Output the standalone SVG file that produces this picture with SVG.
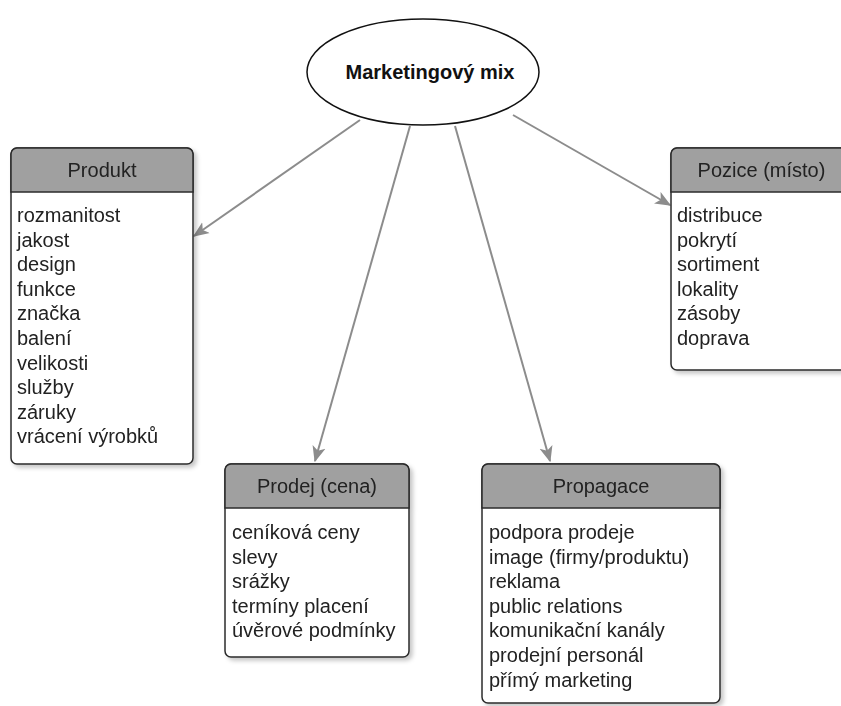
<svg xmlns="http://www.w3.org/2000/svg" width="841" height="706" viewBox="0 0 841 706">
<style>
.box{fill:#ffffff;stroke:#2b2b2b;stroke-width:1.5}
.hdr{fill:#a0a0a0;stroke:#2b2b2b;stroke-width:1.5}
.ht{font-family:"Liberation Sans",Arial,sans-serif;font-size:20px;fill:#222;text-anchor:middle}
.it{font-family:"Liberation Sans",Arial,sans-serif;font-size:20px;fill:#222}
.ttl{font-family:"Liberation Sans",Arial,sans-serif;font-size:20px;font-weight:bold;fill:#111;text-anchor:middle}
.edge{fill:none;stroke:#8c8c8c;stroke-width:2;marker-end:url(#arr)}
</style>
<defs>
<marker id="arr" viewBox="0 0 12 10" refX="11" refY="5" markerWidth="8" markerHeight="7" markerUnits="strokeWidth" orient="auto">
<path d="M0,0 L12,5 L0,10 L3,5 z" fill="#8c8c8c"/>
</marker>
<filter id="sh" x="-10%" y="-10%" width="130%" height="130%">
<feDropShadow dx="3" dy="3" stdDeviation="2" flood-color="#000" flood-opacity="0.22"/>
</filter>
</defs>
<rect width="841" height="706" fill="#ffffff"/>

<g id="connectors">
<line class="edge" x1="360" y1="120" x2="194" y2="236"/>
<line class="edge" x1="410" y1="126" x2="315" y2="461"/>
<line class="edge" x1="455" y1="126" x2="550" y2="461"/>
<line class="edge" x1="513" y1="115" x2="670" y2="205"/>
</g>

<g id="mix">
<ellipse cx="423" cy="72" rx="116" ry="53" fill="#ffffff" stroke="#111" stroke-width="1.5"/>
<text class="ttl" x="430" y="79">Marketingový mix</text>
</g>

<g id="produkt" filter="url(#sh)">
<rect class="box" x="11" y="148" width="182" height="316" rx="6"/>
<path class="hdr" d="M11,192 V154 A6,6 0 0 1 17,148 H187 A6,6 0 0 1 193,154 V192 Z"/>
<text class="ht" x="102" y="177">Produkt</text>
<text class="it" x="17" y="222">rozmanitost</text>
<text class="it" x="17" y="246.6">jakost</text>
<text class="it" x="17" y="271.2">design</text>
<text class="it" x="17" y="295.8">funkce</text>
<text class="it" x="17" y="320.4">značka</text>
<text class="it" x="17" y="345">balení</text>
<text class="it" x="17" y="369.6">velikosti</text>
<text class="it" x="17" y="394.2">služby</text>
<text class="it" x="17" y="418.8">záruky</text>
<text class="it" x="17" y="443.4">vrácení výrobků</text>
</g>

<g id="pozice" filter="url(#sh)">
<rect class="box" x="671" y="148" width="181" height="222" rx="6"/>
<path class="hdr" d="M671,192 V154 A6,6 0 0 1 677,148 H846 A6,6 0 0 1 852,154 V192 Z"/>
<text class="ht" x="761.5" y="177">Pozice (místo)</text>
<text class="it" x="677" y="222">distribuce</text>
<text class="it" x="677" y="246.6">pokrytí</text>
<text class="it" x="677" y="271.2">sortiment</text>
<text class="it" x="677" y="295.8">lokality</text>
<text class="it" x="677" y="320.4">zásoby</text>
<text class="it" x="677" y="345">doprava</text>
</g>

<g id="prodej" filter="url(#sh)">
<rect class="box" x="225" y="464" width="184" height="193" rx="6"/>
<path class="hdr" d="M225,508 V470 A6,6 0 0 1 231,464 H403 A6,6 0 0 1 409,470 V508 Z"/>
<text class="ht" x="317" y="493">Prodej (cena)</text>
<text class="it" x="232" y="539">ceníková ceny</text>
<text class="it" x="232" y="563.6">slevy</text>
<text class="it" x="232" y="588.2">srážky</text>
<text class="it" x="232" y="612.8">termíny placení</text>
<text class="it" x="232" y="637.4">úvěrové podmínky</text>
</g>

<g id="propagace" filter="url(#sh)">
<rect class="box" x="482" y="464" width="238" height="239" rx="6"/>
<path class="hdr" d="M482,508 V470 A6,6 0 0 1 488,464 H714 A6,6 0 0 1 720,470 V508 Z"/>
<text class="ht" x="601" y="493">Propagace</text>
<text class="it" x="489" y="539">podpora prodeje</text>
<text class="it" x="489" y="563.6">image (firmy/produktu)</text>
<text class="it" x="489" y="588.2">reklama</text>
<text class="it" x="489" y="612.8">public relations</text>
<text class="it" x="489" y="637.4">komunikační kanály</text>
<text class="it" x="489" y="662">prodejní personál</text>
<text class="it" x="489" y="686.6">přímý marketing</text>
</g>
</svg>
